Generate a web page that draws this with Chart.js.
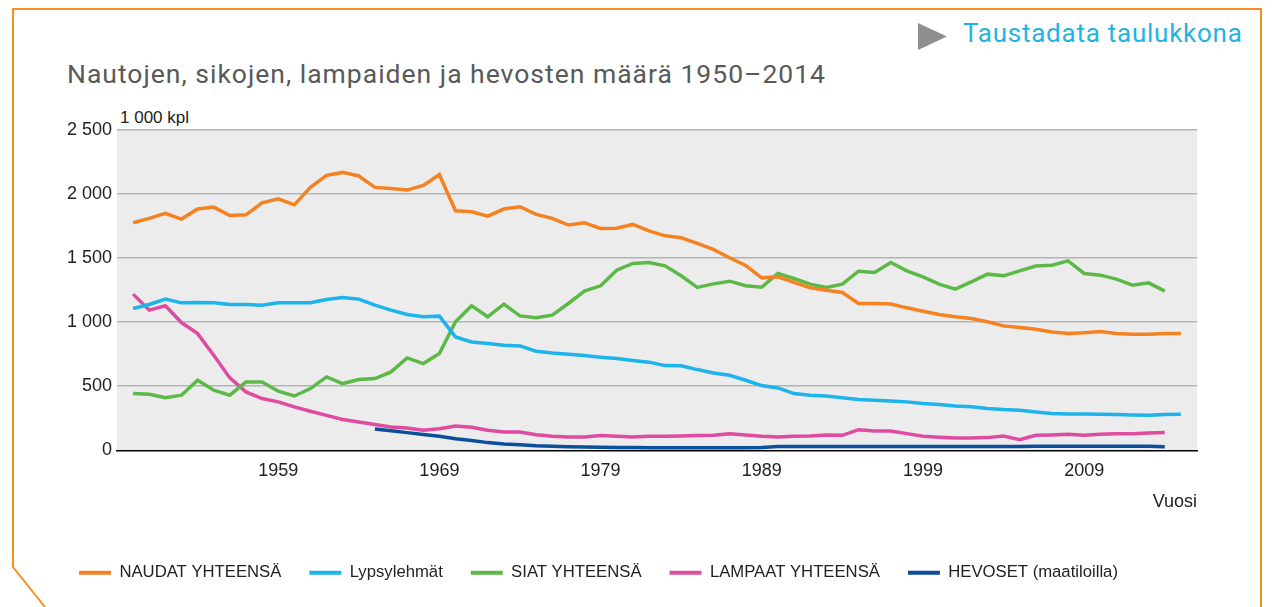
<!DOCTYPE html>
<html>
<head>
<meta charset="utf-8">
<script src="https://cdn.jsdelivr.net/npm/chart.js@4/dist/chart.umd.min.js"></script>
<style>
  body { margin: 0; background: #fff; width: 1274px; height: 607px; overflow: hidden; position: relative; font-family: "Liberation Sans", Arial, sans-serif; }
  #frame { position: absolute; left: 0; top: 0; }
  #title { position: absolute; left: 67px; top: 58px; font-family: Roboto, sans-serif; font-size: 26.5px; letter-spacing: 1px; color: #58595b; white-space: nowrap; }
  #link { position: absolute; left: 963px; top: 18px; font-family: Roboto, sans-serif; font-size: 26px; letter-spacing: 0.75px; color: #1fb4e2; white-space: nowrap; }
  #unit { position: absolute; left: 120px; top: 108px; font-size: 17px; color: #222; }
  #wrap { position: absolute; left: 0; top: 95px; width: 1202px; height: 512px; }
</style>
</head>
<body>
<svg id="frame" width="1274" height="607">
  <polyline points="45,607 13,567 13,9 1261,9 1261,607" fill="none" stroke="#f7901e" stroke-width="2"/>
  <polygon points="918,23 947,36.5 918,50" fill="#8d8e90"/>
</svg>
<div id="link">Taustadata taulukkona</div>
<div id="title">Nautojen, sikojen, lampaiden ja hevosten määrä 1950–2014</div>
<div id="unit">1 000 kpl</div>
<div id="wrap"><canvas id="myChart"></canvas></div>
<script>
// vuodet 1950-2015
var years = [];
for (var y = 1950; y <= 2015; y++) years.push(y);
var tickYears = [1959, 1969, 1979, 1989, 1999, 2009];

var naudat = [1776,1810,1849,1805,1883,1898,1833,1838,1932,1963,
  1916,2052,2146,2169,2141,2052,2044,2031,2068,2151,
  1870,1862,1828,1883,1901,1841,1810,1758,1776,1732,
  1734,1763,1713,1674,1659,1615,1568,1503,1443,1346,
  1354,1310,1268,1250,1232,1146,1146,1141,1112,1086,
  1060,1042,1029,1003,971,958,945,924,911,917,
  927,911,906,906,911,911];
var lypsylehmat = [1107,1138,1180,1151,1154,1151,1138,1138,1133,1151,
  1151,1151,1177,1193,1180,1133,1094,1060,1042,1047,
  885,846,833,820,815,773,760,750,740,727,
  716,701,688,661,659,630,604,586,547,505,
  487,443,430,424,411,396,391,385,378,365,
  357,346,339,326,318,313,299,287,284,284,
  281,279,276,273,279,281];
var siat = [443,437,411,430,547,469,430,534,534,461,
  424,482,573,521,552,560,612,721,677,755,
  1003,1128,1042,1141,1049,1034,1055,1146,1242,1284,
  1406,1458,1466,1440,1362,1271,1299,1320,1284,1273,
  1380,1341,1297,1271,1297,1398,1388,1466,1401,1354,
  1297,1258,1315,1375,1362,1401,1438,1445,1479,1380,
  1367,1336,1289,1307,1242,null];
var lampaat = [1219,1094,1128,997,911,742,565,456,404,378,
  339,305,273,240,221,201,182,174,156,169,
  190,180,156,143,143,122,109,104,104,115,
  109,104,109,109,112,115,117,130,120,109,
  104,109,112,120,117,161,151,151,130,109,
  102,96,96,99,112,83,117,120,125,117,
  125,130,130,135,138,null];
var hevoset = [null,null,null,null,null,null,null,null,null,null,
  null,null,null,null,null,167,152,138,124,110,
  90,76,60,49,44,36,31,28,26,23,
  21,21,20,20,20,20,20,20,20,21,
  30,30,30,29,29,29,29,29,29,29,
  29,29,29,29,30,30,31,32,32,32,
  32,31,31,31,27,null];

function pts(arr) {
  return arr.map(function (v, i) { return { x: years[i], y: v }; });
}

function sarja(label, arr, color) {
  return {
    label: label,
    data: pts(arr),
    borderColor: color,
    backgroundColor: color,
    borderWidth: 3.5,
    pointRadius: 0,
    tension: 0,
    spanGaps: false
  };
}

var plotBg = {
  id: 'plotBg',
  beforeDraw: function (chart) {
    var a = chart.chartArea, ctx = chart.ctx;
    ctx.save();
    ctx.fillStyle = '#ececec';
    ctx.fillRect(a.left, a.top, a.right - a.left, a.bottom - a.top);
    ctx.restore();
  }
};

var tickFont = { family: '"Liberation Sans", Arial, sans-serif', size: 18 };

new Chart(document.getElementById('myChart'), {
  type: 'line',
  data: {
    datasets: [
      sarja('NAUDAT YHTEENSÄ', naudat, '#f58220'),
      sarja('Lypsylehmät', lypsylehmat, '#1cb4ea'),
      sarja('SIAT YHTEENSÄ', siat, '#5db947'),
      sarja('LAMPAAT YHTEENSÄ', lampaat, '#df4ba0'),
      sarja('HEVOSET (maatiloilla)', hevoset, '#0b4f9c')
    ]
  },
  options: {
    responsive: true,
    maintainAspectRatio: false,
    animation: false,
    layout: { padding: { left: 0, right: 5, top: 35, bottom: 16 } },
    scales: {
      x: {
        type: 'linear',
        min: 1949,
        max: 2016,
        afterBuildTicks: function (scale) {
          scale.ticks = tickYears.map(function (v) { return { value: v }; });
        },
        afterFit: function (scale) { scale.height = 86; },
        ticks: { color: '#222', font: tickFont, padding: 10, maxRotation: 0, autoSkip: false,
          callback: function (v) { return String(v); } },
        grid: { display: false, drawTicks: false },
        border: { display: true, color: '#000', width: 1.5 },
        title: { display: true, text: 'Vuosi', align: 'end', color: '#222', font: tickFont, padding: { top: 0, bottom: 23 } }
      },
      y: {
        min: 0,
        max: 2500,
        afterFit: function (scale) { scale.width = 117; },
        ticks: {
          stepSize: 500, color: '#222', font: tickFont, padding: 5,
          callback: function (v) { return String(v).replace(/\B(?=(\d{3})+(?!\d))/g, ' '); }
        },
        grid: {
          drawTicks: false,
          lineWidth: 1.5,
          color: function (c) { return c.tick && c.tick.value === 0 ? 'rgba(0,0,0,0)' : '#b4b4b4'; }
        },
        border: { display: false }
      }
    },
    plugins: {
      legend: {
        position: 'bottom',
        labels: {
          boxWidth: 32,
          boxHeight: 4,
          padding: 28,
          color: '#222',
          font: { family: '"Liberation Sans", Arial, sans-serif', size: 16.7 },
          generateLabels: function (chart) {
            var items = Chart.defaults.plugins.legend.labels.generateLabels(chart);
            items.forEach(function (it) { it.lineWidth = 0; });
            return items;
          }
        }
      },
      tooltip: { enabled: false }
    }
  },
  plugins: [plotBg]
});
</script>
</body>
</html>
